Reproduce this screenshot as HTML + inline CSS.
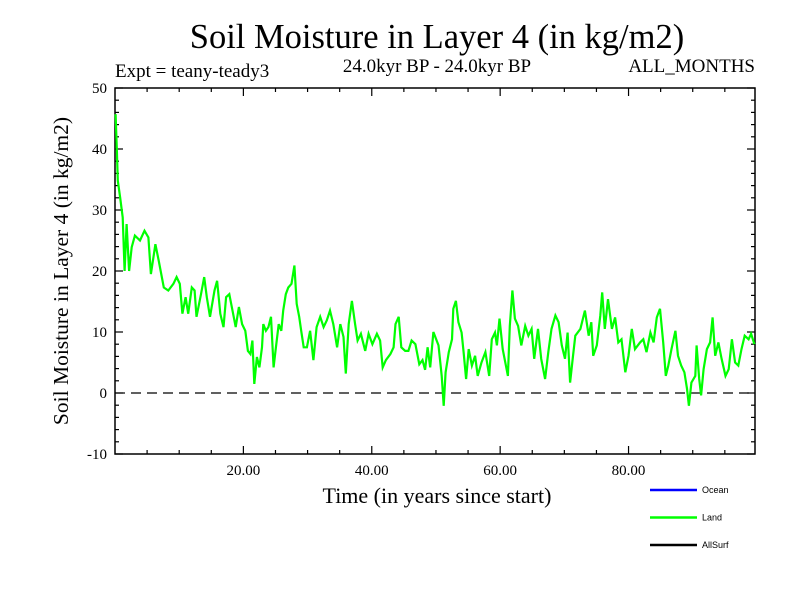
<!DOCTYPE html>
<html><head><meta charset="utf-8"><style>
body{margin:0;background:#fff}
svg{display:block}
text{font-family:"Liberation Serif",serif;fill:#000}
</style></head><body>
<svg id="chart" width="800" height="600" viewBox="0 0 800 600" xmlns="http://www.w3.org/2000/svg">
<rect width="800" height="600" fill="#fff"/>
<text x="437" y="48" font-size="34.5" text-anchor="middle">Soil Moisture in Layer 4 (in kg/m2)</text>
<text x="115" y="77" font-size="19">Expt = teany-teady3</text>
<text x="437" y="72" font-size="19" text-anchor="middle">24.0kyr BP - 24.0kyr BP</text>
<text x="755" y="72" font-size="19" text-anchor="end">ALL_MONTHS</text>
<text x="437" y="503" font-size="22" text-anchor="middle">Time (in years since start)</text>
<text transform="translate(68,271) rotate(-90)" font-size="21.5" text-anchor="middle">Soil Moisture in Layer 4 (in kg/m2)</text>
<g id="axes"></g>
<g id="series"></g>
<g id="legend"></g>
</svg>
<script>
const years=[0.1,0.3,0.44,0.8,1.2,1.5,1.8,2.2,2.6,3.1,3.9,4.6,5.2,5.6,6.3,6.8,7.6,8.3,9.1,9.6,10.1,10.5,11,11.4,11.96,12.4,12.7,13.4,13.9,14.3,14.8,15.5,15.9,16.4,16.9,17.3,17.8,18.3,18.8,19.3,19.8,20.3,20.7,21.1,21.4,21.7,22.1,22.5,22.9,23.1,23.5,23.9,24.3,24.7,25,25.5,25.9,26.2,26.6,27,27.5,27.95,28.3,28.7,29,29.4,29.9,30.4,30.9,31.4,31.96,32.5,33,33.5,34,34.6,35.1,35.6,35.95,36.4,36.9,37.4,37.8,38.3,38.97,39.5,40.1,40.8,41.3,41.7,42.2,42.9,43.4,43.7,44.2,44.6,45.2,45.7,46.2,46.8,47.4,47.9,48.3,48.7,49.1,49.6,50.4,50.9,51.2,51.5,52,52.5,52.7,53.1,53.5,54,54.3,54.7,55.1,55.6,56.1,56.5,57.1,57.7,58.3,58.7,59.2,59.5,59.9,60.4,60.9,61.2,61.5,61.9,62.3,62.8,63.3,63.9,64.4,64.9,65.3,65.9,66.4,67,67.5,68,68.6,69.1,69.6,70.1,70.5,70.9,71.3,71.7,72.5,73.2,73.8,74.2,74.5,75.05,75.6,75.9,76.3,76.8,77.4,77.9,78.4,78.9,79.5,80,80.5,81,81.8,82.3,82.8,83.4,83.9,84.4,84.9,85.4,85.8,86.2,86.7,87.3,87.7,88.2,88.7,89.1,89.4,89.8,90.4,90.6,91,91.3,91.7,92.2,92.7,93.1,93.5,94,94.5,95.1,95.6,96.1,96.6,97.1,97.6,98.1,98.7,99.1,99.6];
const land=[45.7,39.6,34.8,32.1,28.8,20,27.7,20,23.9,25.8,25,26.6,25.5,19.5,24.4,21.7,17.3,16.8,17.9,19,17.9,13,15.7,13,17.3,16.8,12.5,16.2,19,15.7,12.5,16.8,18.4,13,10.8,15.7,16.2,13.5,10.8,14.1,11.3,10.2,6.9,6.4,8.6,1.5,5.9,4.2,7.5,11.3,10.2,10.8,12.5,4.2,6.9,11.3,10.2,13.5,16.2,17.3,17.9,20.9,14.6,12.5,10.2,7.5,7.5,10.2,5.4,10.8,12.5,10.8,11.9,13.5,11.3,7.5,11.3,9.2,3.2,11.3,15.1,11.3,8.6,9.7,6.9,9.7,8,9.7,8.6,4.2,5.4,6.4,7.5,11.3,12.5,7.5,6.9,6.9,8.6,8,4.7,5.4,3.8,7.5,4.2,10,7.8,2.8,-2.1,3.4,6.7,8.8,13.8,15.1,11.6,9.9,6.7,2.3,7.2,4.5,6.1,2.8,5,6.7,2.8,8.8,9.9,7.8,12.2,7.2,4.5,2.8,11,16.8,12.2,11,7.8,11,9.4,10.5,5.6,10.5,5.6,2.3,6.7,10.5,12.7,11.6,7.8,5.6,9.9,1.7,5.6,9.4,10.5,13.5,9.4,11.6,6.1,7.8,12.7,16.5,10.5,15.4,10.5,12.4,8.3,8.8,3.4,6.1,10.5,7.2,8.3,8.8,6.7,9.9,8.3,12.4,13.8,8.3,2.8,4.5,7.2,10.2,6.1,4.5,3.4,0.7,-2.1,1.7,2.8,7.8,2.3,-0.4,3.9,7.2,8.3,12.4,6.1,8.3,5.6,2.8,3.9,8.8,5,4.5,7.2,9.4,8.8,9.7,8];
const yTicks=[-10,0,10,20,30,40,50];
const xTicks=[20,40,60,80];
const xTickLabels=["20.00","40.00","60.00","80.00"];
const legendNames=["Ocean","Land","AllSurf"];
const legendColors=["#0000ff","#00ff00","#000000"];

const L=115,R=755,T=88,B=454,X0=0,X1=99.7,Y0=-10,Y1=50;
const sx=v=>L+(v-X0)/(X1-X0)*(R-L);
const sy=v=>B-(v-Y0)/(Y1-Y0)*(B-T);
const NS="http://www.w3.org/2000/svg";
function mk(tag,attrs,parent){const e=document.createElementNS(NS,tag);for(const k in attrs)e.setAttribute(k,attrs[k]);parent.appendChild(e);return e;}
const axes=document.getElementById('axes');
const frame=mk('rect',{x:L,y:T,width:R-L,height:B-T,fill:'none',stroke:'#000','stroke-width':1.5},axes);


const zero=mk('line',{x1:L,x2:R,y1:sy(0),y2:sy(0),stroke:'#000','stroke-width':1.2,'stroke-dasharray':'10,6'},axes);


for(let v=Y0;v<=Y1;v+=2){const major=v%10===0;const len=major?8:4;
 mk('line',{x1:L,x2:L+len,y1:sy(v),y2:sy(v),stroke:'#000','stroke-width':1.2},axes);
 mk('line',{x1:R-len,x2:R,y1:sy(v),y2:sy(v),stroke:'#000','stroke-width':1.2},axes);}
for(let v=5;v<X1;v+=5){const major=v%20===0;const len=major?8:4;
 mk('line',{x1:sx(v),x2:sx(v),y1:T,y2:T+len,stroke:'#000','stroke-width':1.2},axes);
 mk('line',{x1:sx(v),x2:sx(v),y1:B-len,y2:B,stroke:'#000','stroke-width':1.2},axes);}
yTicks.forEach(v=>{const t=mk('text',{x:L-8,y:sy(v)+5,'font-size':15,'text-anchor':'end'},axes);t.textContent=v;
 
 });
xTicks.forEach((v,i)=>{const t=mk('text',{x:sx(v),y:B+21,'font-size':15,'text-anchor':'middle'},axes);t.textContent=xTickLabels[i];
 
 });
const ser=document.getElementById('series');
const pts=years.map((y,i)=>sx(y).toFixed(1)+','+sy(land[i]).toFixed(1)).join(' ');
const pl=mk('polyline',{points:pts,fill:'none',stroke:'#00ff00','stroke-width':2.2,'stroke-linejoin':'miter'},ser);


const lg=document.getElementById('legend');
legendNames.forEach((n,i)=>{const y=490+i*27.5;
 const ln=mk('line',{x1:650,x2:697,y1:y,y2:y,stroke:legendColors[i],'stroke-width':2.5},lg);
 
 
 const t=mk('text',{x:702,y:y+3,'font-size':9,style:'font-family:"Liberation Sans",sans-serif'},lg);t.textContent=n;
 
 });
</script>
</body></html>
